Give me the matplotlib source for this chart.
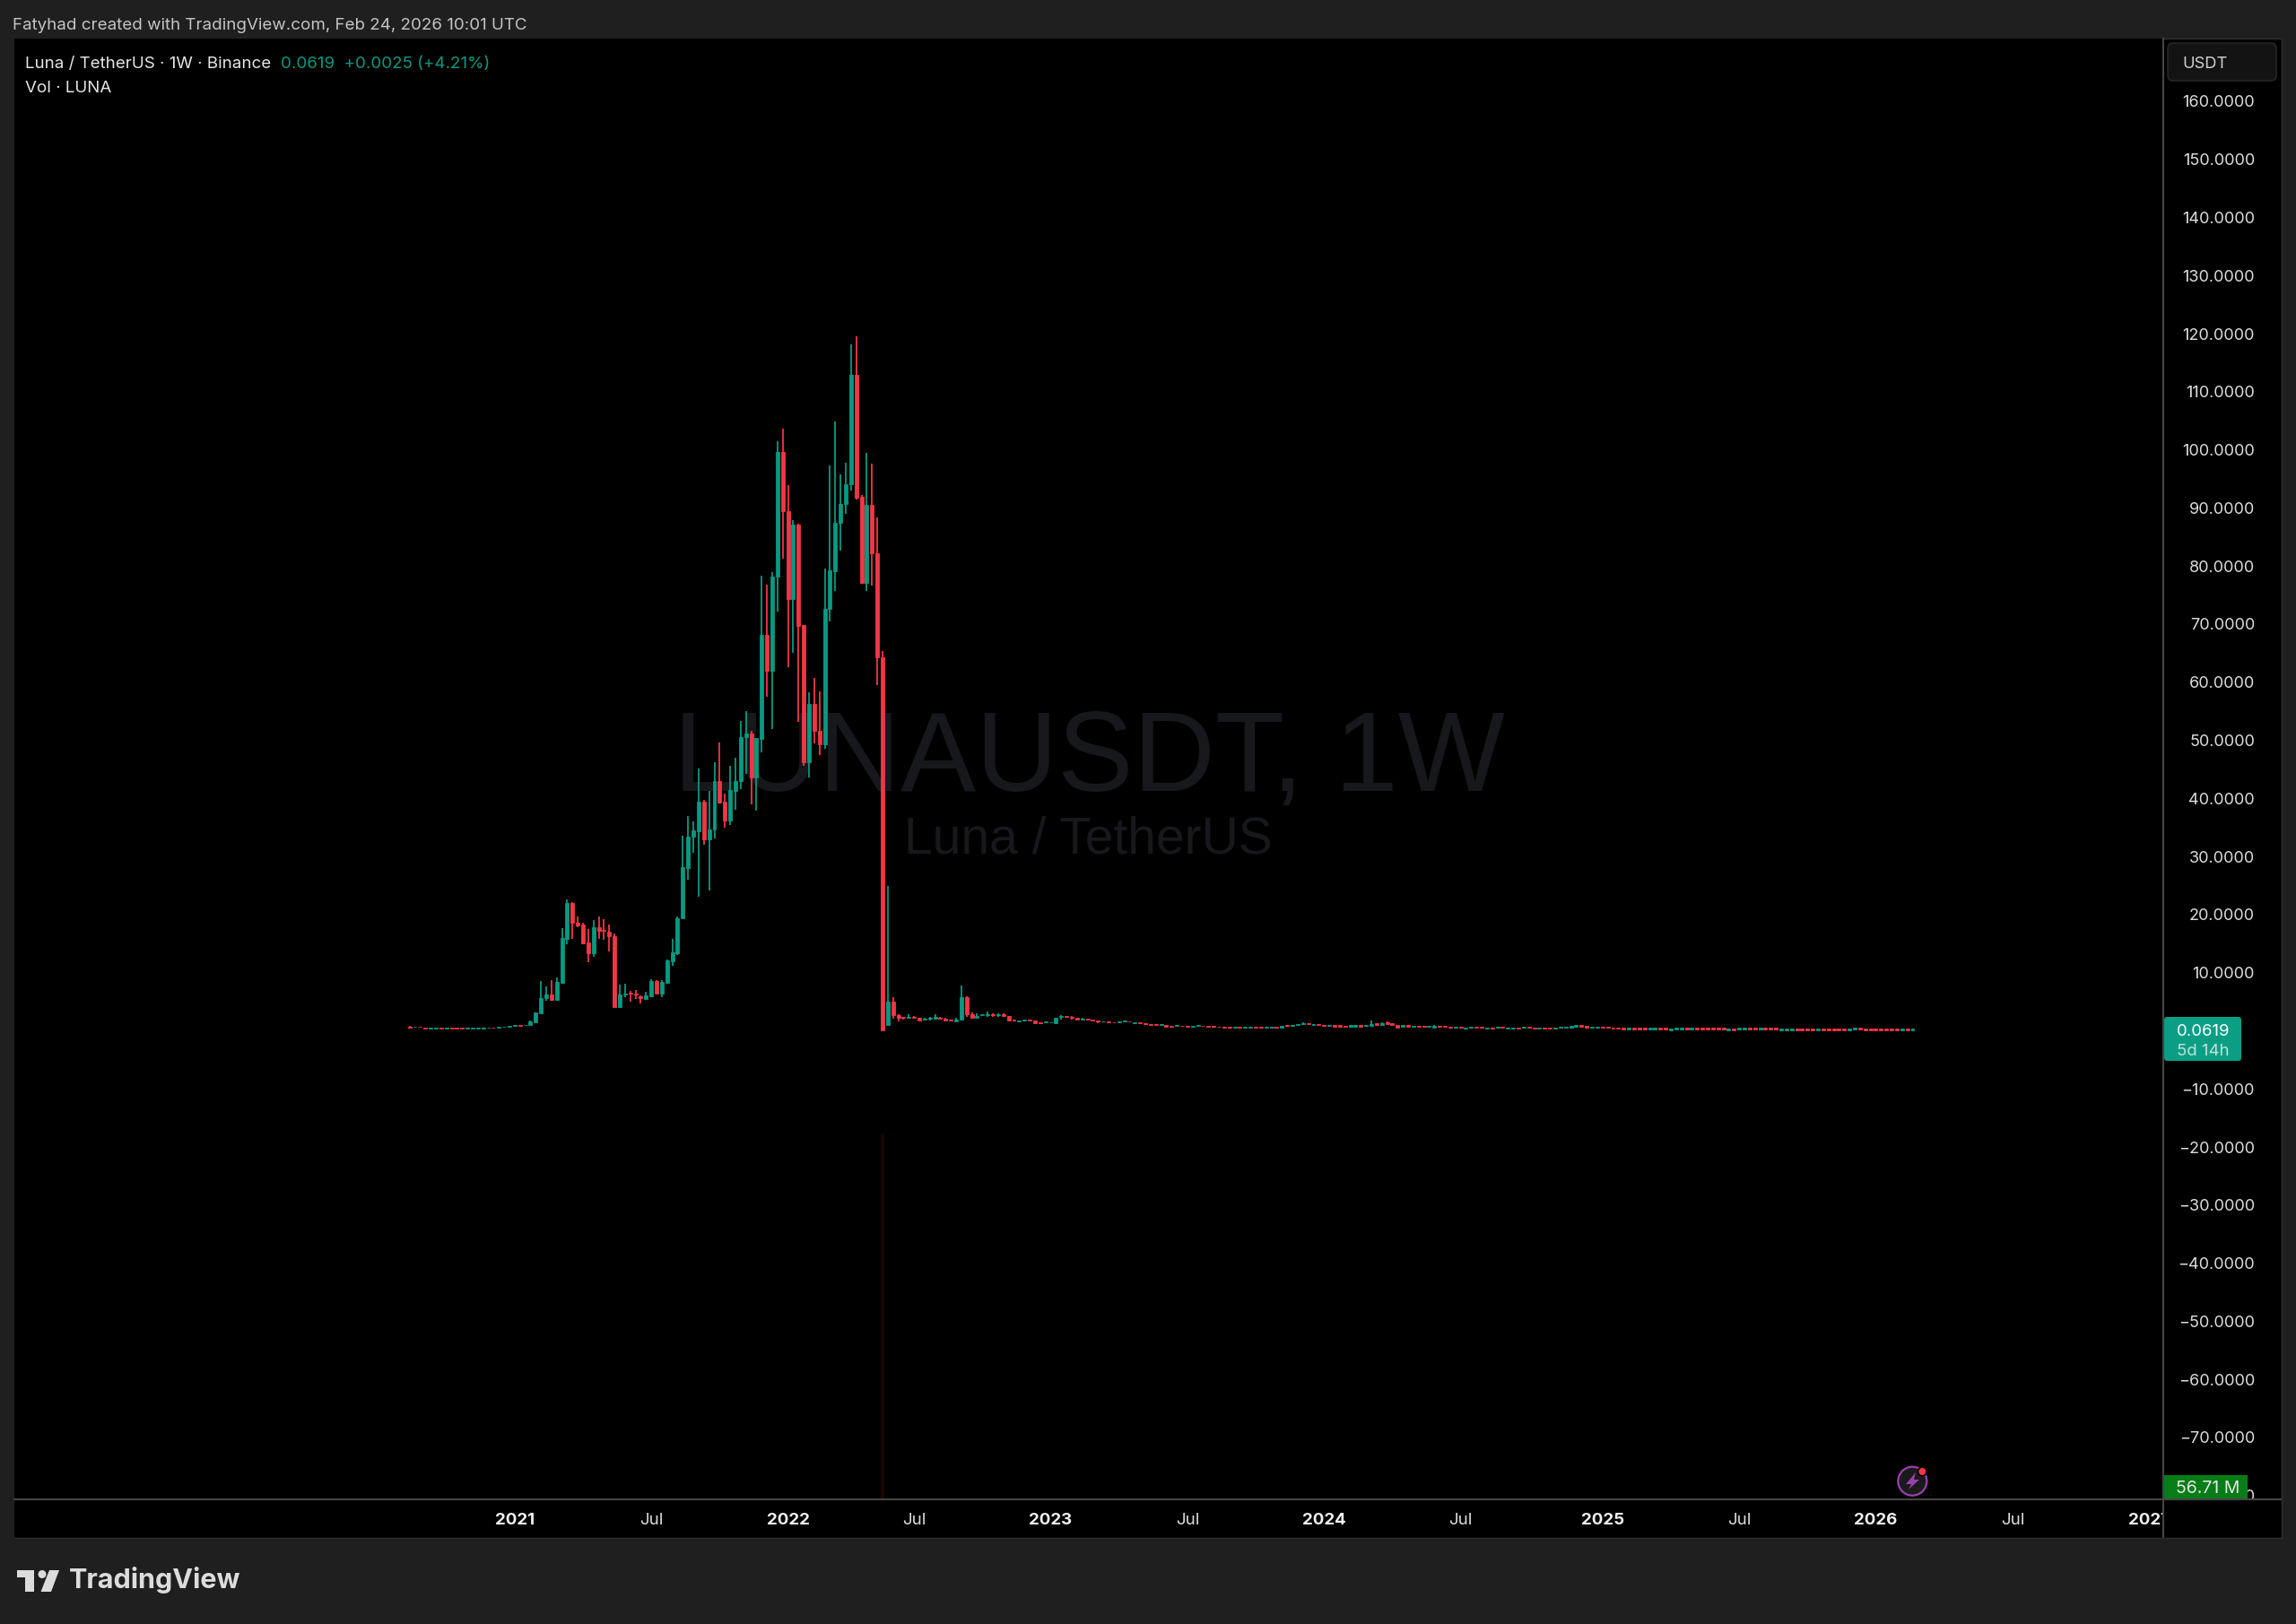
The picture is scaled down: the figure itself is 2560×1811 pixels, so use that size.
#!/usr/bin/python
import matplotlib
matplotlib.use('Agg')
import matplotlib.pyplot as plt
from matplotlib.patches import Rectangle, FancyBboxPatch, Circle, Polygon
import numpy as np

# weekly LUNA/USDT candles
opens = [
    .69, .64, .74, .54, .43, .43, .49, .43, .49, .49,
    .49, .43, .43, .43, .43, .49, .59, .54, .64, .74,
    .84, .95, .95, 1.05, 1.51, 3.06, 5.58, 6.20, 5.37, 8.26,
    15.87, 22.05, 18.6, 18.34, 15.2, 13.4, 17.78, 17.36, 17.05, 16.28,
    4.14, 6.3, 6.51, 6.35, 5.89, 5.48, 5.94, 8.51, 6.46, 8.31,
    12.01, 13.3, 19.32, 28.07, 33.37, 34.4, 39.39, 32.96, 34.65, 42.94,
    39.39, 36.25, 41.34, 42.94, 50.5, 51.23, 43.56, 50.2, 68.1, 61.92,
    78.23, 99.64, 89.45, 74.37, 87.14, 69.85, 46.2, 56.3, 51.7, 49.3,
    72.57, 79.16, 87.4, 90.64, 94.08, 112.92, 91.92, 77.1, 90.58, 82.25,
    64.34, .95, 5.02, 2.75, 2.34, 2.24, 2.39, 2.24, 1.88, 2.08,
    2.14, 2.24, 2.14, 1.88, 1.62, 1.88, 5.84, 2.86, 2.24, 2.65,
    2.70, 2.86, 2.65, 2.86, 2.5, 1.88, 1.67, 1.78, 1.88, 1.72,
    1.52, 1.42, 1.42, 1.36, 2.39, 2.5, 2.44, 2.19, 1.88, 2.08,
    1.93, 1.78, 1.57, 1.62, 1.52, 1.42, 1.57, 1.67, 1.26, 1.42,
    1.26, 1.16, 1.16, 1.05, 1.05, .8, .8, .9, .8, .64,
    .8, .9, .8, .8, .75, .64, .64, .54, .64, .54,
    .54, .64, .64, .54, .54, .69, .49, 1.06, .85, .95,
    1.11, 1.31, 1.0, 1.16, 1.06, .8, .95, .95, .85, .75,
    .75, .95, .85, .9, 1.26, .95, 1.47, 1.31, 1.06, .75,
    .95, .64, .85, .85, .64, .59, .85, .85, .69, .49,
    .69, .39, .54, .69, .69, .39, .59, .54, .69, .39,
    .39, .59, .54, .69, .59, .39, .59, .59, .39, .54,
    .54, .59, .75, .95, .85, .54, .54, .69, .69, .59,
    .59, .49, .28, .49, .49, .49, .28, .28, .49, .49,
    .13, .28, .28, .49, .28, .49, .49, .49, .49, .49,
    .49, .13, .33, .28, .28, .49, .49, .28, .49, .49,
    .49, .13, .13, .13, .33, .33, .33, .33, .13, .33,
    .33, .33, .33, .33, .13, .28, .49, .33, .33, .33,
    .33, .33, .33, .33, .13, .33, .13]
closes = [
    .54, .74, .64, .43, .49, .49, .43, .49, .43, .43,
    .43, .49, .49, .49, .54, .59, .49, .64, .74, .84,
    .95, .85, 1.05, 1.62, 3.16, 5.68, 6.20, 5.37, 8.41, 15.97,
    22.05, 18.55, 18.19, 15.05, 13.4, 17.78, 17.21, 17.26, 16.28, 4.14,
    6.3, 6.46, 6.4, 6.25, 5.58, 6.04, 8.51, 6.46, 8.41, 12.11,
    13.45, 19.37, 28.12, 33.37, 34.5, 39.39, 32.96, 34.71, 42.94, 39.29,
    36.25, 41.45, 42.99, 50.61, 51.23, 43.56, 50.35, 68.1, 61.92, 78.23,
    99.64, 89.45, 74.37, 87.14, 69.74, 46.2, 56.3, 51.6, 49.3, 72.6,
    79.26, 87.4, 90.64, 94.08, 112.92, 91.77, 77.1, 90.58, 82.25, 64.34,
    .1, 5.07, 2.70, 2.24, 2.24, 2.39, 2.24, 1.83, 2.08, 2.19,
    2.34, 2.14, 1.78, 1.78, 1.98, 5.84, 2.86, 2.24, 2.5, 2.81,
    2.91, 2.75, 2.86, 2.6, 1.83, 1.78, 1.83, 1.88, 1.78, 1.36,
    1.36, 1.57, 1.52, 2.19, 2.55, 2.34, 2.19, 1.88, 2.14, 1.88,
    1.72, 1.57, 1.67, 1.52, 1.42, 1.57, 1.72, 1.57, 1.42, 1.26,
    1.11, 1.05, 1.05, 1.21, .64, .64, .95, .8, .64, .8,
    .95, .8, .64, .64, .64, .49, .49, .64, .49, .64,
    .64, .54, .54, .64, .64, .54, .9, .8, 1.06, 1.16,
    1.31, 1.16, 1.16, 1.0, .85, .95, .75, .75, .64, .95,
    .95, .75, 1.06, 1.2, 1.06, 1.31, 1.2, .95, .59, .95,
    .75, .85, .64, .64, .85, .85, .64, .64, .54, .69,
    .54, .59, .69, .54, .54, .59, .39, .69, .54, .59,
    .59, .39, .69, .54, .39, .59, .39, .39, .59, .69,
    .69, .85, .95, .75, .59, .69, .69, .54, .54, .44,
    .44, .28, .49, .28, .28, .28, .49, .49, .28, .28,
    .33, .49, .49, .28, .49, .28, .28, .28, .28, .28,
    .28, .33, .13, .49, .49, .28, .28, .49, .28, .28,
    .28, .33, .33, .33, .13, .13, .13, .13, .33, .13,
    .13, .13, .13, .13, .33, .49, .28, .13, .13, .13,
    .13, .13, .13, .13, .33, .13, .33]
highs = [
    .79, .74, .74, .54, .49, .49, .49, .49, .49, .49,
    .49, .49, .49, .49, .54, .59, .59, .64, .74, .84,
    .95, .95, 1.05, 1.77, 3.2, 8.51, 7.64, 8.67, 9.18, 17.67,
    22.56, 22.1, 19.63, 18.55, 17.52, 19.11, 19.73, 19.22, 18.34, 16.8,
    7.98, 8.05, 6.8, 6.97, 6.1, 6.76, 8.82, 8.67, 8.67, 12.27,
    15.87, 19.73, 33.63, 36.97, 36.1, 45.1, 39.8, 41.34, 46.23, 49.58,
    40.78, 45.62, 47.0, 53.33, 54.98, 51.64, 50.45, 78.39, 76.74, 79.0,
    101.55, 103.6, 94.0, 87.9, 87.29, 69.9, 58.3, 60.7, 58.4, 79.6,
    97.3, 104.84, 95.78, 97.79, 118.17, 119.56, 92.23, 99.49, 97.58, 88.32,
    65.37, 25.0, 5.74, 2.86, 2.34, 2.91, 2.5, 2.24, 2.29, 2.34,
    2.81, 2.34, 2.24, 1.88, 2.29, 7.8, 5.94, 3.11, 2.96, 2.91,
    3.27, 2.96, 3.01, 3.01, 2.5, 1.88, 1.83, 1.88, 1.88, 1.83,
    1.52, 1.67, 1.52, 2.29, 2.65, 2.5, 2.55, 2.29, 2.29, 2.08,
    1.93, 1.78, 1.67, 1.62, 1.52, 1.62, 1.83, 1.67, 1.42, 1.42,
    1.26, 1.16, 1.16, 1.21, 1.05, .8, .95, .9, .8, .8,
    .95, .9, .8, .8, .75, .64, .64, .64, .64, .64,
    .64, .64, .64, .64, .64, .69, .9, 1.06, 1.06, 1.16,
    1.47, 1.31, 1.16, 1.16, 1.06, .95, .95, .95, .85, .95,
    .95, .95, 1.06, 1.72, 1.26, 1.47, 1.62, 1.31, 1.06, .95,
    .95, .85, .85, .85, .85, 1.0, .85, .85, .69, .69,
    .69, .59, .69, .69, .69, .59, .59, .69, .69, .59,
    .59, .59, .69, .69, .59, .59, .59, .59, .59, .69,
    .69, .85, .95, .95, .85, .69, .69, .69, .69, .59,
    .59, .49, .49, .49, .49, .49, .49, .49, .49, .49,
    .33, .49, .49, .49, .49, .49, .49, .49, .49, .49,
    .49, .33, .33, .49, .49, .49, .49, .49, .49, .49,
    .49, .33, .33, .33, .33, .33, .33, .33, .33, .33,
    .33, .33, .33, .33, .33, .49, .49, .33, .33, .33,
    .33, .33, .33, .33, .33, .33, .33]
lows = [
    .43, .64, .64, .43, .43, .43, .43, .43, .43, .43,
    .43, .43, .43, .43, .43, .49, .49, .54, .64, .74,
    .84, .85, .95, 1.05, 1.51, 3.0, 5.17, 5.17, 5.30, 8.2,
    14.84, 15.87, 17.83, 14.95, 11.86, 12.68, 15.87, 15.72, 13.71, 4.04,
    4.1, 5.79, 5.07, 5.53, 4.65, 5.37, 5.84, 6.35, 5.73, 8.3,
    11.24, 13.04, 19.3, 25.96, 30.64, 23.08, 32.08, 24.11, 33.06, 39.18,
    35.0, 35.43, 38.1, 41.6, 44.28, 38.93, 37.9, 47.87, 57.55, 52.0,
    72.2, 81.2, 62.54, 65.11, 53.2, 45.6, 43.6, 49.5, 47.5, 48.5,
    70.5, 75.66, 82.66, 88.94, 92.95, 91.51, 77.0, 75.71, 76.59, 59.5,
    0.0, .9, 2.08, 1.67, 1.93, 2.08, 2.14, 1.57, 1.88, 1.72,
    1.98, 1.93, 1.78, 1.78, 1.57, 1.88, 2.44, 2.24, 2.24, 2.65,
    2.34, 2.34, 2.44, 2.44, 1.57, 1.78, 1.57, 1.62, 1.78, 1.21,
    1.36, 1.42, 1.42, 1.36, 1.98, 2.24, 1.98, 1.88, 1.88, 1.88,
    1.72, 1.31, 1.52, 1.31, 1.42, 1.42, 1.57, 1.57, 1.26, 1.26,
    1.05, 1.05, 1.05, 1.05, .64, .64, .8, .8, .64, .64,
    .8, .8, .64, .54, .64, .49, .49, .54, .49, .54,
    .54, .54, .54, .54, .54, .54, .49, .69, .7, .9,
    1.0, 1.16, 1.0, 1.0, .69, .8, .75, .75, .64, .75,
    .75, .75, .69, .9, .9, .95, 1.2, .95, .59, .75,
    .75, .64, .64, .64, .64, .59, .64, .64, .54, .49,
    .54, .28, .54, .54, .54, .39, .28, .54, .54, .39,
    .39, .28, .54, .54, .39, .39, .39, .39, .39, .54,
    .54, .59, .75, .59, .44, .54, .54, .54, .54, .44,
    .44, .28, .28, .28, .28, .28, .28, .28, .28, .28,
    .13, .28, .28, .28, .28, .28, .28, .28, .28, .28,
    .28, .13, .13, .28, .28, .28, .28, .28, .28, .28,
    .28, .13, .13, .13, .13, .13, .13, .13, .13, .13,
    .13, .13, .13, .13, .13, .28, .28, .13, .13, .13,
    .13, .13, .13, .13, .13, .13, .13]
# volume in millions, all but the crash week are a pixel or so tall
volumes = [
    60, 60, 60, 60, 60, 60, 60, 60, 60, 60,
    60, 60, 60, 60, 60, 60, 60, 60, 60, 60,
    60, 60, 60, 60, 60, 60, 60, 60, 60, 60,
    60, 60, 60, 60, 60, 60, 60, 60, 60, 60,
    60, 60, 60, 60, 60, 60, 60, 60, 60, 60,
    60, 60, 60, 60, 60, 60, 60, 60, 60, 60,
    60, 60, 60, 60, 60, 60, 60, 60, 60, 60,
    60, 60, 60, 60, 60, 60, 60, 60, 60, 60,
    60, 60, 60, 60, 60, 60, 60, 60, 60, 60,
    23000, 60, 60, 60, 60, 60, 60, 60, 60, 60,
    60, 60, 60, 60, 60, 60, 60, 60, 60, 60,
    60, 60, 60, 60, 60, 60, 60, 60, 60, 60,
    60, 60, 60, 60, 60, 60, 60, 60, 60, 60,
    60, 60, 60, 60, 60, 60, 60, 60, 60, 60,
    60, 60, 60, 60, 60, 60, 60, 60, 60, 60,
    60, 60, 60, 60, 60, 60, 60, 60, 60, 60,
    60, 60, 60, 60, 60, 60, 60, 60, 60, 60,
    60, 60, 60, 60, 60, 60, 60, 60, 60, 60,
    60, 60, 60, 60, 60, 60, 60, 60, 60, 60,
    60, 60, 60, 60, 60, 60, 60, 60, 60, 60,
    60, 60, 60, 60, 60, 60, 60, 60, 60, 60,
    60, 60, 60, 60, 60, 60, 60, 60, 60, 60,
    60, 60, 60, 60, 60, 60, 60, 60, 60, 60,
    60, 60, 60, 60, 60, 60, 60, 60, 60, 60,
    60, 60, 60, 60, 60, 60, 60, 60, 60, 60,
    60, 60, 60, 60, 60, 60, 60, 60, 60, 60,
    60, 60, 60, 60, 60, 60, 60, 60, 60, 60,
    60, 60, 60, 60, 60, 60, 60, 60, 60, 60,
    60, 60, 60, 60, 60, 60, 57]

price_ticks = [160, 150, 140, 130, 120, 110, 100, 90, 80, 70, 60, 50, 40, 30,
               20, 10, -10, -20, -30, -40, -50, -60, -70, -80]
time_ticks = [20, 46, 72, 96, 122, 148, 174, 200, 227, 253, 279, 305, 331]
time_labels = ['2021', 'Jul', '2022', 'Jul', '2023', 'Jul', '2024', 'Jul',
               '2025', 'Jul', '2026', 'Jul', '2027']

UP = '#089981'
DOWN = '#F23645'
BG = '#1f1f1f'
SEP = '#454545'
FONT = 'Inter'
W, H = 2560, 1811

# pixel edges of the panes
LEFT, RIGHT, TOP, BOTTOM, AXIS_BOTTOM, PANEL_RIGHT = 16, 2412, 43, 1672, 1715, 2544


def pane_rect(x0, x1, y0, y1):
    return [x0 / W, 1 - y1 / H, (x1 - x0) / W, (y1 - y0) / H]


plt.rcParams['font.family'] = [FONT, 'DejaVu Sans']
fig = plt.figure(figsize=(W / 100, H / 100), dpi=100, facecolor=BG)

xlim = (-75.2, 333.7)
ylim = (-80.66, 170.8)

# volume pane sits behind the price pane, watermark goes with it
ax_vol = fig.add_axes(pane_rect(LEFT, RIGHT, TOP, BOTTOM), zorder=1, facecolor='black')
ax = fig.add_axes(pane_rect(LEFT, RIGHT, TOP, BOTTOM), zorder=2, facecolor='none')
ax_time = fig.add_axes(pane_rect(LEFT, RIGHT, BOTTOM, AXIS_BOTTOM), zorder=3, facecolor='black')

idx = np.arange(len(opens))
o = np.array(opens)
c = np.array(closes)
colors = np.where(c >= o, UP, DOWN)

ax_vol.bar(idx, volumes, width=0.62, color=list(colors), alpha=0.1, linewidth=0)
ax_vol.set_xlim(xlim)
ax_vol.set_ylim(0, max(volumes) * (BOTTOM - TOP) / 407.0)
ax_vol.axis('off')
ax_vol.add_patch(Rectangle((0, 0), 1, 1, transform=ax_vol.transAxes, color='black', zorder=0))
ax_vol.text(1214.5 / W, 1 - 882 / H, 'LUNAUSDT, 1W', transform=fig.transFigure,
            family='Liberation Sans', fontsize=91, color='#17181c', ha='center', va='baseline', zorder=0.5)
ax_vol.text(1213 / W, 1 - 952 / H, 'Luna / TetherUS', transform=fig.transFigure,
            family='Liberation Sans', fontsize=41, color='#17181c', ha='center', va='baseline', zorder=0.5)

ax.vlines(idx, lows, highs, colors=list(colors), linewidth=1.3, zorder=2)
# thin edge keeps the flat candles visible as dashes
ax.bar(idx, np.abs(c - o), bottom=np.minimum(o, c), width=0.68, color=list(colors),
       edgecolor=list(colors), linewidth=0.6, zorder=3)
ax.set_xlim(xlim)
ax.set_ylim(ylim)
ax.set_xticks([])
ax.yaxis.tick_right()
ax.set_yticks(price_ticks)
ax.set_yticklabels(['%.4f' % v if v >= 0 else '\u2212%.4f' % abs(v) for v in price_ticks])
ax.tick_params(axis='y', length=0, pad=73.4, labelsize=13, labelcolor='#dcdcdc')
for lab in ax.get_yticklabels():
    lab.set_ha('right')
for side in ax.spines.values():
    side.set_visible(False)

ax_time.set_xlim(xlim)
ax_time.set_ylim(0, 1)
ax_time.set_yticks([])
ax_time.set_xticks(time_ticks)
ax_time.set_xticklabels(time_labels)
ax_time.tick_params(axis='x', length=0, pad=-20, labelsize=13.5, labelcolor='#dcdcdc')
for lab in ax_time.get_xticklabels():
    if lab.get_text() != 'Jul':
        lab.set_fontweight('bold')
        lab.set_color('#f0f0f0')
for side in ax_time.spines.values():
    side.set_visible(False)

# everything around the chart is drawn in pixel coordinates on a top layer
top = fig.add_axes([0, 0, 1, 1], zorder=4, facecolor='none')
top.set_xlim(0, W)
top.set_ylim(H, 0)
top.axis('off')

# black behind the price scale goes under the labels, so use a low layer for it
under = fig.add_axes([0, 0, 1, 1], zorder=0, facecolor='none')
under.set_xlim(0, W)
under.set_ylim(H, 0)
under.axis('off')
under.add_patch(Rectangle((LEFT, TOP), PANEL_RIGHT - LEFT, AXIS_BOTTOM - TOP, facecolor='black',
                          edgecolor='#2e2e2e', linewidth=1))

# corner under the price scale hides what runs over
top.add_patch(Rectangle((RIGHT, BOTTOM), PANEL_RIGHT - RIGHT, AXIS_BOTTOM - BOTTOM, facecolor='black',
                        edgecolor='none'))
top.plot([LEFT, PANEL_RIGHT], [BOTTOM, BOTTOM], color=SEP, lw=1.5)
top.plot([RIGHT, RIGHT], [TOP, AXIS_BOTTOM], color=SEP, lw=1.5)
top.plot([LEFT, PANEL_RIGHT], [AXIS_BOTTOM, AXIS_BOTTOM], color='#2e2e2e', lw=1)
top.plot([PANEL_RIGHT, PANEL_RIGHT], [TOP, AXIS_BOTTOM], color='#2e2e2e', lw=1)

top.text(14, 33, 'Fatyhad created with TradingView.com, Feb 24, 2026 10:01 UTC',
         fontsize=13.5, color='#c4c4c4', va='baseline')
top.text(28, 76, 'Luna / TetherUS \u00b7 1W \u00b7 Binance', fontsize=13.5, color='#e6e6e6', va='baseline')
top.text(313, 76, '0.0619  +0.0025 (+4.21%)', fontsize=13.5, color=UP, va='baseline')
top.text(28, 103, 'Vol \u00b7 LUNA', fontsize=13.5, color='#e6e6e6', va='baseline')

# currency button
top.add_patch(FancyBboxPatch((2421, 52), 113, 34, boxstyle='round,pad=4,rounding_size=6',
                             facecolor='#131313', edgecolor='#2c2c2c', linewidth=1))
top.text(2433, 76, 'USDT', fontsize=13.2, color='#cfcfcf', va='baseline')

# last price and volume tags
top.add_patch(FancyBboxPatch((2417, 1138), 78, 41, boxstyle='round,pad=4,rounding_size=3',
                             facecolor='#0a9f85', edgecolor='none'))
top.text(2427, 1155, '0.0619', fontsize=13.4, color='white', va='baseline')
top.text(2427, 1177, '5d 14h', fontsize=13.4, color='#bfe3da', va='baseline')
top.add_patch(Rectangle((2413, 1645), 93, 27, facecolor='#067d16', edgecolor='none'))
top.text(2426, 1665, '56.71 M', fontsize=14, color='#e6e6e6', va='baseline')

# bolt badge
top.add_patch(Circle((2132.3, 1651.7), 16, facecolor='#1a1a1a', edgecolor='#9b3fae', linewidth=1.6))
top.add_patch(Polygon([(2136, 1642), (2125, 1655), (2131, 1655), (2128, 1661), (2140, 1650),
                       (2134, 1650)], closed=True, facecolor='#9b3fae', edgecolor='none'))
top.add_patch(Circle((2143.3, 1641), 5.5, facecolor='black', edgecolor='none'))
top.add_patch(Circle((2143.3, 1641), 4, facecolor=DOWN, edgecolor='none'))

# logo
LOGO = '#dcdcdc'
top.add_patch(Polygon([(19, 1751), (38, 1751), (38, 1775), (28, 1775), (28, 1759), (19, 1759)],
                      closed=True, facecolor=LOGO, edgecolor='none'))
top.add_patch(Circle((47, 1755.5), 4.5, facecolor=LOGO, edgecolor='none'))
top.add_patch(Polygon([(66, 1751), (55, 1751), (45.5, 1775), (57, 1775)], closed=True,
                      facecolor=LOGO, edgecolor='none'))
top.text(77, 1771, 'TradingView', fontsize=22, fontweight='bold', color=LOGO, va='baseline')

fig.savefig('out.png', dpi=100, facecolor=BG)
